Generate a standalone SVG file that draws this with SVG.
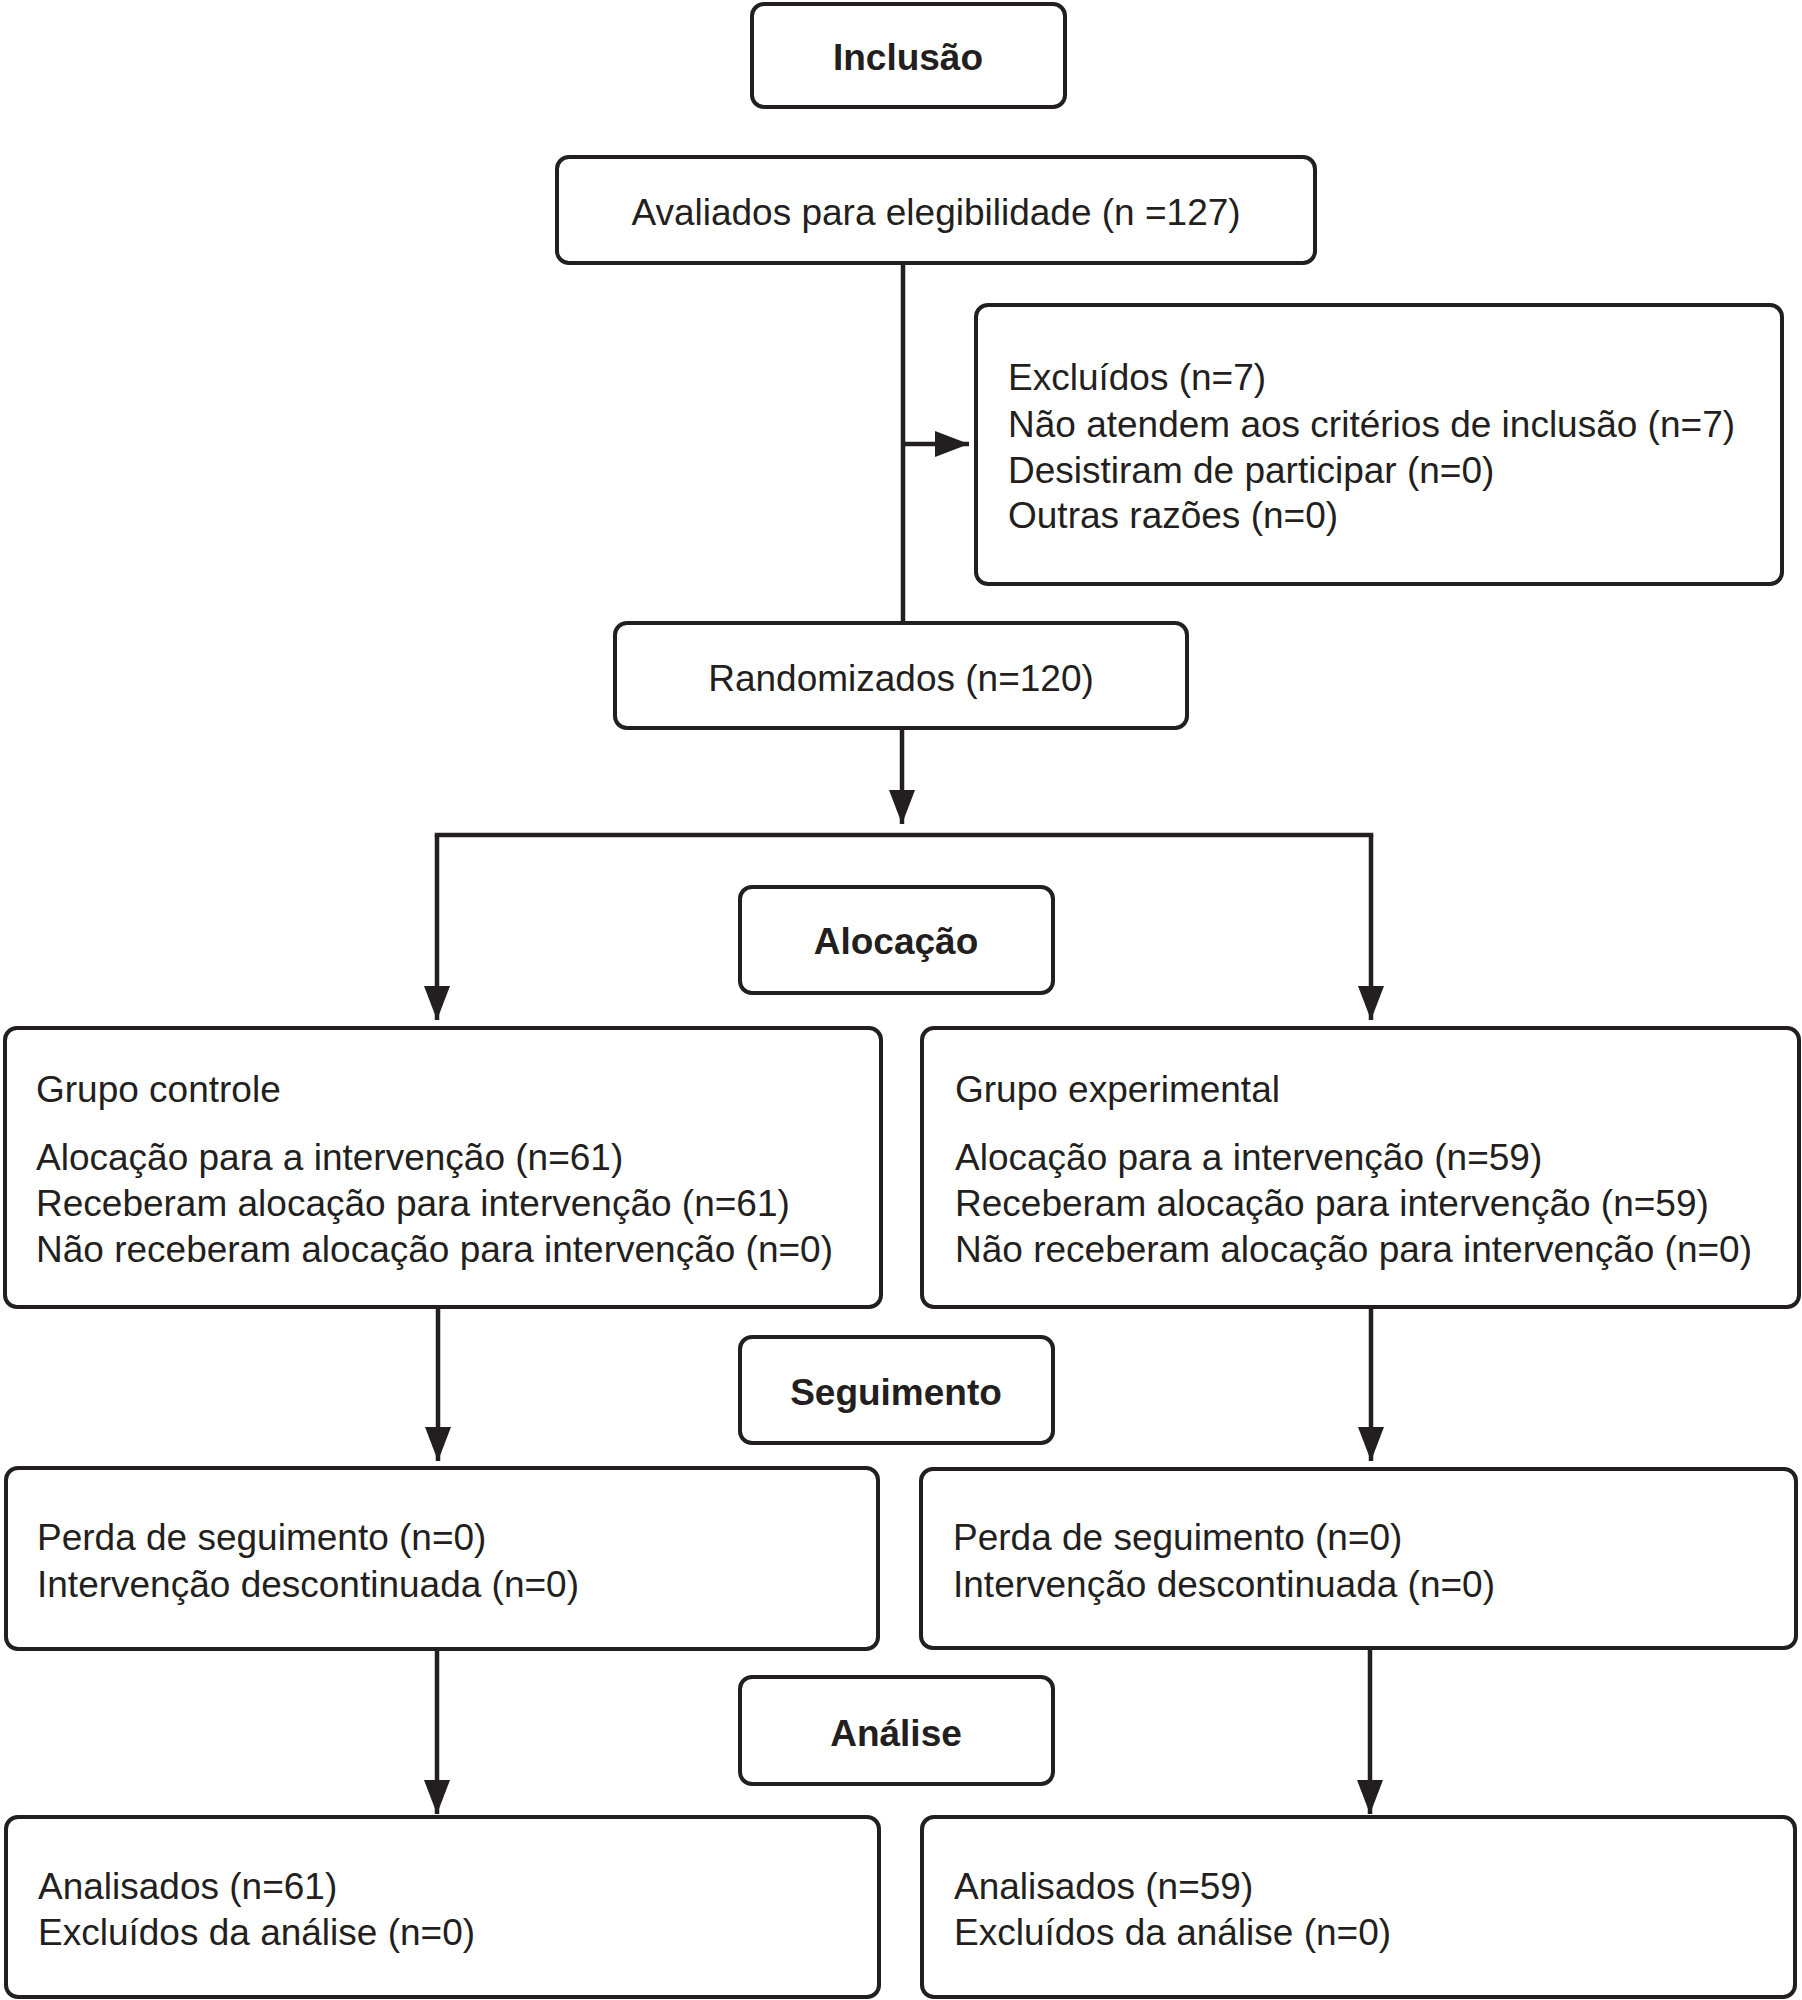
<svg xmlns="http://www.w3.org/2000/svg" width="1802" height="2000" viewBox="0 0 1802 2000">
<style>
.box{fill:#fff;stroke:#231f20;stroke-width:4}
.t{font-family:"Liberation Sans",Arial,sans-serif;font-size:37px;fill:#231f20}
.b{font-family:"Liberation Sans",Arial,sans-serif;font-size:37px;font-weight:bold;fill:#231f20;text-anchor:middle}
.c{text-anchor:middle}
.ln{fill:none;stroke:#231f20;stroke-width:4.5}
</style>
<defs>
<marker id="ah" markerUnits="userSpaceOnUse" markerWidth="34" markerHeight="26" refX="34" refY="13" orient="auto">
<path d="M0,0 L34,13 L0,26 z" fill="#231f20"/>
</marker>
</defs>
<rect width="1802" height="2000" fill="#fff"/>
<g id="connectors">
<path class="ln" d="M903,263 V623"/>
<path class="ln" d="M903,444 H969" marker-end="url(#ah)"/>
<path class="ln" d="M902,728 V824" marker-end="url(#ah)"/>
<path class="ln" d="M437,835 H1371" stroke-linecap="square"/>
<path class="ln" d="M437,835 V1020" marker-end="url(#ah)"/>
<path class="ln" d="M1371,835 V1020" marker-end="url(#ah)"/>
<path class="ln" d="M438,1307 V1461" marker-end="url(#ah)"/>
<path class="ln" d="M1371,1307 V1461" marker-end="url(#ah)"/>
<path class="ln" d="M437,1649 V1814" marker-end="url(#ah)"/>
<path class="ln" d="M1370,1649 V1814" marker-end="url(#ah)"/>
</g>
<g id="inclusao">
<rect class="box" x="752" y="4" width="313" height="103" rx="12"/>
<text class="b" x="908" y="70">Inclusão</text>
</g>
<g id="avaliados">
<rect class="box" x="557" y="157" width="758" height="106" rx="12"/>
<text class="t c" x="936" y="225">Avaliados para elegibilidade (n =127)</text>
</g>
<g id="excluidos">
<rect class="box" x="976" y="305" width="806" height="279" rx="12"/>
<text class="t" x="1008" y="390">Excluídos (n=7)</text>
<text class="t" x="1008" y="437">Não atendem aos critérios de inclusão (n=7)</text>
<text class="t" x="1008" y="483">Desistiram de participar (n=0)</text>
<text class="t" x="1008" y="528">Outras razões (n=0)</text>
</g>
<g id="randomizados">
<rect class="box" x="615" y="623" width="572" height="105" rx="12"/>
<text class="t c" x="901" y="691">Randomizados (n=120)</text>
</g>
<g id="alocacao">
<rect class="box" x="740" y="887" width="313" height="106" rx="12"/>
<text class="b" x="896" y="954">Alocação</text>
</g>
<g id="grupo-controle">
<rect class="box" x="5" y="1028" width="876" height="279" rx="12"/>
<text class="t" x="36" y="1102">Grupo controle</text>
<text class="t" x="36" y="1170">Alocação para a intervenção (n=61)</text>
<text class="t" x="36" y="1216">Receberam alocação para intervenção (n=61)</text>
<text class="t" x="36" y="1262">Não receberam alocação para intervenção (n=0)</text>
</g>
<g id="grupo-experimental">
<rect class="box" x="922" y="1028" width="877" height="279" rx="12"/>
<text class="t" x="955" y="1102">Grupo experimental</text>
<text class="t" x="955" y="1170">Alocação para a intervenção (n=59)</text>
<text class="t" x="955" y="1216">Receberam alocação para intervenção (n=59)</text>
<text class="t" x="955" y="1262">Não receberam alocação para intervenção (n=0)</text>
</g>
<g id="seguimento">
<rect class="box" x="740" y="1337" width="313" height="106" rx="12"/>
<text class="b" x="896" y="1405">Seguimento</text>
</g>
<g id="perda-controle">
<rect class="box" x="6" y="1468" width="872" height="181" rx="12"/>
<text class="t" x="37" y="1550">Perda de seguimento (n=0)</text>
<text class="t" x="37" y="1597">Intervenção descontinuada (n=0)</text>
</g>
<g id="perda-experimental">
<rect class="box" x="921" y="1469" width="875" height="179" rx="12"/>
<text class="t" x="953" y="1550">Perda de seguimento (n=0)</text>
<text class="t" x="953" y="1597">Intervenção descontinuada (n=0)</text>
</g>
<g id="analise">
<rect class="box" x="740" y="1677" width="313" height="107" rx="12"/>
<text class="b" x="896" y="1746">Análise</text>
</g>
<g id="analisados-controle">
<rect class="box" x="6" y="1817" width="873" height="180" rx="12"/>
<text class="t" x="38" y="1899">Analisados (n=61)</text>
<text class="t" x="38" y="1945">Excluídos da análise (n=0)</text>
</g>
<g id="analisados-experimental">
<rect class="box" x="922" y="1817" width="873" height="180" rx="12"/>
<text class="t" x="954" y="1899">Analisados (n=59)</text>
<text class="t" x="954" y="1945">Excluídos da análise (n=0)</text>
</g>
</svg>
